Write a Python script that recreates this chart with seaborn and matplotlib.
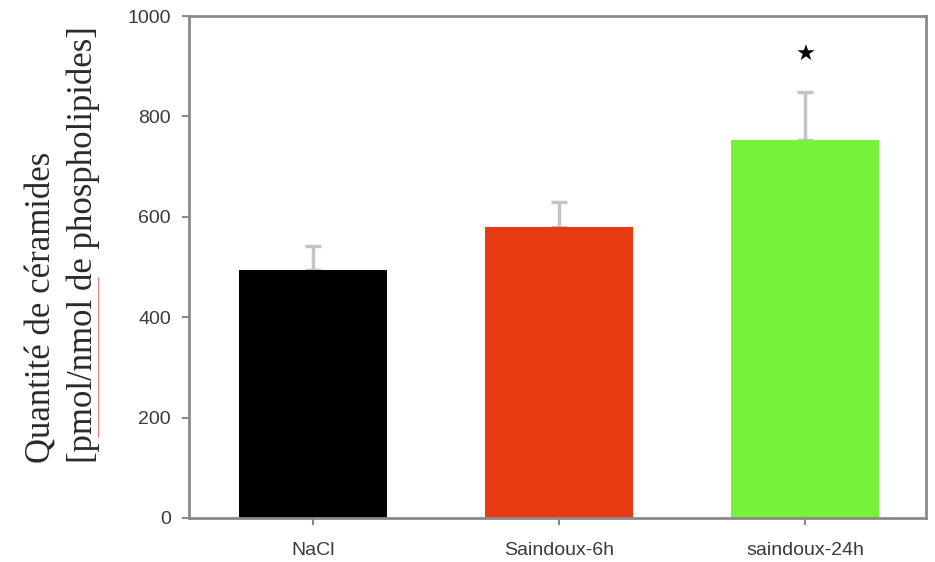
import matplotlib
matplotlib.use("Agg")
import matplotlib.pyplot as plt
import seaborn as sns
import pandas as pd
from matplotlib.lines import Line2D

categories = ["NaCl", "Saindoux-6h", "saindoux-24h"]
values = [494, 580, 754]
errors = [48, 50, 94]
colors = ["#000000", "#e83a12", "#77f23a"]
star_value = 922
yticks = [0, 200, 400, 600, 800, 1000]

sns.set_theme(style="white")
plt.rcParams['font.family'] = ['Liberation Sans', 'DejaVu Sans']

df = pd.DataFrame({"cat": categories, "val": values})

fig = plt.figure(figsize=(9.35, 5.62), dpi=100)
ax = fig.add_axes([0.202, 0.0783, 0.788, 0.8932])

sns.barplot(data=df, x="cat", y="val", hue="cat", palette=colors, width=0.6,
            legend=False, ax=ax, saturation=1, errorbar=None, zorder=2)
for p in ax.patches:
    p.set_edgecolor("none")

ax.errorbar(range(len(categories)), values, yerr=[[0]*3, errors], fmt="none",
            ecolor="#c4c4c4", elinewidth=2.5, capsize=6, capthick=2.5, zorder=1)

ax.text(2, star_value, "★", ha="center", va="center", fontsize=16,
        color="black", family=["DejaVu Sans"])

ax.set_xlim(-0.504, 2.49)
ax.set_ylim(0, 1000)
ax.set_yticks(yticks)
ax.set_yticklabels([str(t) for t in yticks])
ax.set_xlabel("")
ax.set_ylabel("Quantité de céramides\n[pmol/nmol de phospholipides]",
              family=["Liberation Serif", "DejaVu Serif"], fontsize=25,
              color="#2a2a2a", linespacing=1.35, multialignment="left")
ax.yaxis.set_label_coords(-0.12, 0.545)

for s in ax.spines.values():
    s.set_color("#8a8a8a")
    s.set_linewidth(2)

ax.tick_params(axis="both", which="both", direction="out", length=5, width=1.5,
               color="#8a8a8a", labelcolor="#3a3a3a", left=True, bottom=True)
ax.tick_params(axis="y", labelsize=14, pad=8)
ax.tick_params(axis="x", labelsize=14, pad=12)

# spell-check style underline under "pmol/nmol"
fig.add_artist(Line2D([98/935, 98/935], [1-437/562, 1-277/562],
                      color="#f08080", linewidth=0.8, transform=fig.transFigure))

fig.savefig("out.png", dpi=100)
